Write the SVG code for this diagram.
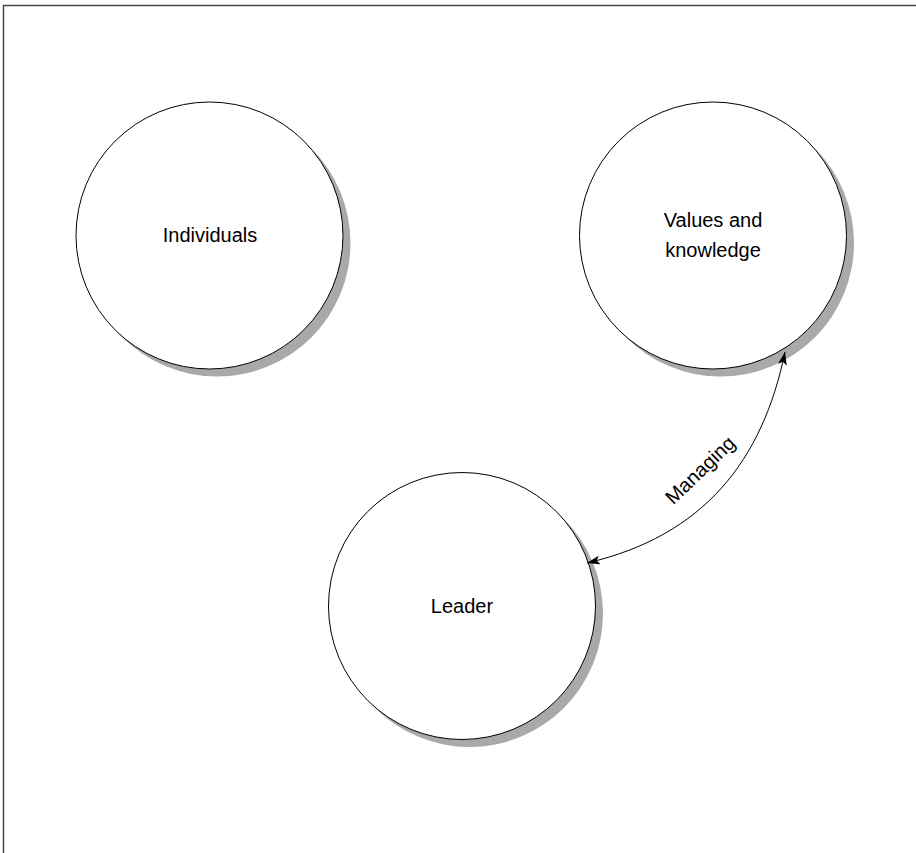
<svg xmlns="http://www.w3.org/2000/svg" width="916" height="853" viewBox="0 0 916 853">
  <style>
    .frame { stroke: #444; stroke-width: 1.5; fill: none; }
    .shadow { fill: #a9a9a9; stroke: none; }
    .node { fill: #fff; stroke: #000; stroke-width: 1; }
    .label { font-family: "Liberation Sans", Arial, Helvetica, sans-serif; font-size: 20px; fill: #000; text-anchor: middle; }
    .edge { fill: none; stroke: #000; stroke-width: 1; }
  </style>
  <defs>
    <marker id="arrow" markerUnits="userSpaceOnUse" markerWidth="14" markerHeight="10" refX="13" refY="4.5" orient="auto-start-reverse">
      <path d="M0,0 L13,4.5 L0,9 L3,4.5 z" fill="#000"/>
    </marker>
  </defs>

  <rect width="916" height="853" fill="#fff"/>

  <!-- page frame: top and left edges only -->
  <path class="frame" d="M3.5,853 L3.5,5.5 L916,5.5"/>

  <g id="individuals">
    <circle class="shadow" cx="217" cy="243" r="133.5"/>
    <circle class="node" cx="209.5" cy="235.5" r="133.5"/>
    <text class="label" x="210" y="242">Individuals</text>
  </g>

  <g id="values-knowledge">
    <circle class="shadow" cx="720.5" cy="243" r="133.5"/>
    <circle class="node" cx="713" cy="235.5" r="133.5"/>
    <text class="label" x="713" y="227">Values and</text>
    <text class="label" x="713" y="257">knowledge</text>
  </g>

  <g id="leader">
    <circle class="shadow" cx="469.5" cy="613.5" r="133.5"/>
    <circle class="node" cx="462" cy="606" r="133.5"/>
    <text class="label" x="462" y="613">Leader</text>
  </g>

  <g id="connectors">
    <path class="edge" d="M785,352 C762.6,460.7 703.9,535.8 587,563" marker-start="url(#arrow)" marker-end="url(#arrow)"/>
    <text class="label" transform="translate(700,470) rotate(-44)" x="0" y="7">Managing</text>
  </g>
</svg>
